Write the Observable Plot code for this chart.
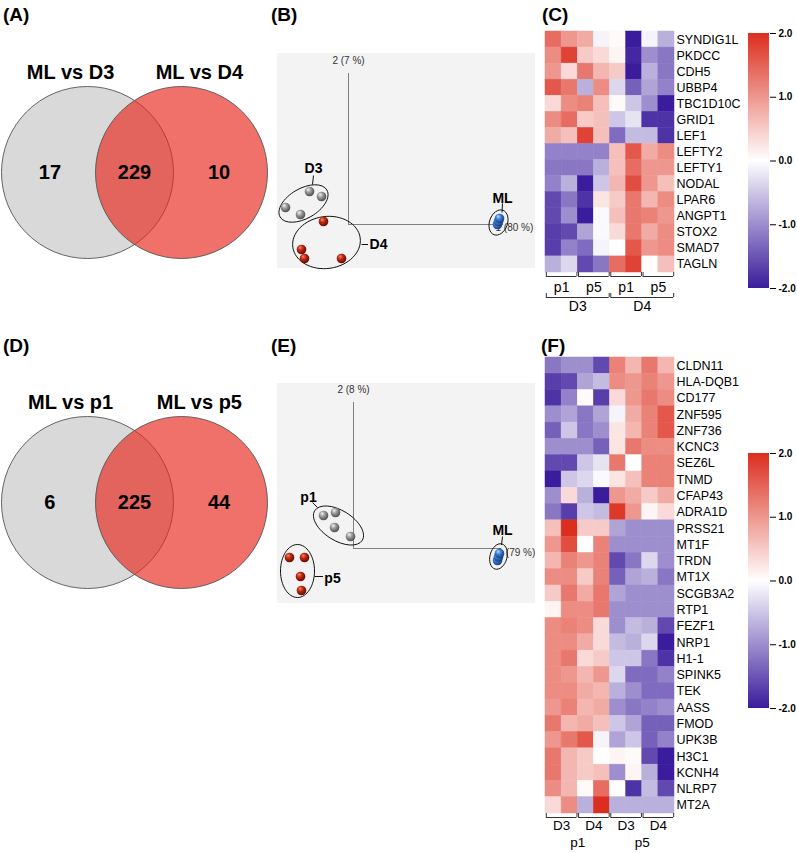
<!DOCTYPE html>
<html><head><meta charset="utf-8">
<script src="https://cdn.jsdelivr.net/npm/d3@7"></script>
<script src="https://cdn.jsdelivr.net/npm/@observablehq/plot@0.6"></script>
<style>
body{margin:0;background:#fff;}
#fig{position:relative;width:797px;height:853px;overflow:hidden;font-family:"Liberation Sans",Arial,Helvetica,sans-serif;}
.panel{position:absolute;}
.plabel{position:absolute;font-weight:bold;font-size:19px;line-height:19px;color:#000;}
</style></head><body><div id="fig"></div>
<script>
// ---------------- DATA ----------------
const vennTopSets = ["ML vs D3", "ML vs D4"];
const vennTopCounts = [17, 229, 10];
const vennBotSets = ["ML vs p1", "ML vs p5"];
const vennBotCounts = [6, 225, 44];

const pcaB_var = ["1 (80 %)", "2 (7 %)"];
const pcaB_D3 = [[-3.9, 3.3], [-2.7, 2.8], [-6.3, 1.7], [-4.8, 1.0]];
const pcaB_D4 = [[-2.5, 0.3], [-4.7, -2.5], [-4.4, -3.4], [-0.7, -3.4]];
const pcaB_ML = [[14.9, 0.0], [15.0, 0.3], [15.1, 0.6]];

const pcaE_var = ["1 (79 %)", "2 (8 %)"];
const pcaE_p1 = [[-3.0, 3.3], [-1.8, 3.6], [-1.9, 2.1], [-0.3, 1.2]];
const pcaE_p5 = [[-6.4, -0.9], [-4.9, -0.9], [-5.3, -2.8], [-5.2, -4.2]];
const pcaE_ML = [[14.4, -1.2], [14.5, -0.85], [14.6, -0.5]];

const genesC = ["SYNDIG1L","PKDCC","CDH5","UBBP4","TBC1D10C","GRID1","LEF1","LEFTY2","LEFTY1","NODAL","LPAR6","ANGPT1","STOX2","SMAD7","TAGLN"];
const valuesC = [
  [1.4, 1.0, 0.8, -0.1, 0.05, -2.0, -0.1, -0.7],
  [1.1, 1.8, 0.5, 0.35, 0.1, -1.9, -1.0, -1.2],
  [1.0, 0.35, 1.3, 0.7, 0.5, -2.0, -0.7, -1.2],
  [1.6, 1.3, -0.7, 1.1, -0.35, -1.4, -0.8, -1.1],
  [0.35, 1.1, 1.2, 0.6, 0.05, -0.5, -1.0, -2.0],
  [1.1, 1.4, 0.5, 0.6, -0.5, -0.25, -1.8, -1.8],
  [0.8, 0.6, 1.8, 0.6, -1.3, -0.6, -0.6, -1.8],
  [-1.1, -1.1, -1.1, -1.1, 0.6, 1.6, 0.8, 1.1],
  [-1.2, -1.2, -1.2, -0.7, 0.6, 1.4, 1.0, 1.0],
  [-1.1, -0.7, -2.0, -0.5, 0.7, 1.7, 1.0, 0.6],
  [-1.6, -1.2, -1.8, 0.25, 0.5, 1.3, 0.7, 1.1],
  [-1.6, -1.0, -2.0, -0.05, 0.6, 1.3, 1.2, 1.0],
  [-1.7, -1.6, -0.8, -0.05, 0.35, 1.3, 0.8, 1.1],
  [-1.7, -1.1, -1.3, -0.1, 0.0, 1.6, 1.0, 1.1],
  [-0.7, -0.35, -1.6, -1.2, 1.4, 1.8, 0.0, 0.6]
];
const colsC_level1 = ["p1", "p5", "p1", "p5"];
const colsC_level2 = ["D3", "D4"];

const genesF = ["CLDN11","HLA-DQB1","CD177","ZNF595","ZNF736","KCNC3","SEZ6L","TNMD","CFAP43","ADRA1D","PRSS21","MT1F","TRDN","MT1X","SCGB3A2","RTP1","FEZF1","NRP1","H1-1","SPINK5","TEK","AASS","FMOD","UPK3B","H3C1","KCNH4","NLRP7","MT2A"];
const valuesF = [
  [-1.2, -1.0, -1.0, -1.6, 1.2, 0.7, 1.3, 0.7],
  [-1.7, -1.6, -0.8, -0.6, 1.1, 1.0, 1.2, 1.0],
  [-1.8, -1.1, 0.05, -1.7, 0.35, 1.0, 1.3, 1.1],
  [-1.0, -0.8, -1.2, -0.8, -0.1, 0.8, 1.2, 1.6],
  [-1.4, -0.5, -1.2, -1.0, 0.25, 0.7, 1.2, 1.6],
  [-1.0, -1.0, -1.0, -1.4, 0.25, 1.3, 1.1, 1.1],
  [-1.6, -1.6, -0.5, -0.25, 1.3, 0.0, 1.2, 1.2],
  [-2.0, -0.5, -0.35, -0.05, 0.25, 0.6, 1.2, 1.2],
  [-1.0, 0.35, -0.7, -2.0, 1.0, 0.8, 0.5, 0.8],
  [-1.2, -1.7, -0.5, -0.6, 1.9, 1.0, 0.1, 0.35],
  [0.6, 2.0, 0.5, 0.5, -0.8, -1.0, -1.0, -1.0],
  [1.0, 1.7, 0.0, 1.2, -1.0, -1.0, -1.0, -1.0],
  [0.7, 1.2, 1.0, 1.2, -1.6, -1.2, -0.35, -1.0],
  [1.1, 1.1, 0.5, 1.2, -1.4, -0.8, -0.7, -1.2],
  [0.5, 1.3, 0.8, 1.3, -0.8, -1.0, -1.0, -1.0],
  [0.1, 1.1, 1.1, 1.3, -1.0, -1.0, -1.0, -1.0],
  [1.1, 1.2, 1.1, 0.35, -1.0, -0.6, -0.7, -1.6],
  [1.1, 1.1, 0.8, 0.35, -0.6, -0.7, -0.35, -2.0],
  [1.1, 1.3, 0.35, 0.5, -0.5, -0.5, -1.2, -1.8],
  [1.1, 1.0, 0.7, 1.0, -0.35, -1.3, -1.3, -1.1],
  [1.1, 1.1, 0.8, 0.7, -0.7, -1.0, -1.3, -1.3],
  [1.0, 1.2, 0.7, 0.8, -1.0, -1.2, -1.1, -1.0],
  [1.3, 0.7, 0.8, 0.6, -0.5, -0.8, -1.4, -1.4],
  [1.0, 1.3, 1.6, -0.1, -0.8, -0.5, -1.4, -1.1],
  [1.3, 0.7, 0.5, 0.0, 0.1, 0.05, -1.6, -2.0],
  [1.3, 0.7, 0.5, 0.6, -1.0, 0.1, -0.7, -2.0],
  [1.1, 0.7, 0.05, 1.4, 0.0, -1.8, -0.6, -1.6],
  [0.35, 1.1, -0.7, 2.0, -0.7, -0.7, -0.7, -0.7]
];
const colsF_level1 = ["D3", "D4", "D3", "D4"];
const colsF_level2 = ["p1", "p5"];

const colorDomain = [-2, 0, 2];
const colorTicks = [-2, -1, 0, 1, 2];

// ---------------- STYLE / LAYOUT ----------------
const FONT = '"Liberation Sans", Arial, Helvetica, sans-serif';
const RED = "#dc2e1e", BLUE = "#3a1c9c", MID = "#ffffff";
const baseStyle = {background: "transparent", overflow: "visible", fontFamily: FONT, color: "#000"};
const fig = document.getElementById("fig");

function place(node, left, top) {
  const d = document.createElement("div");
  d.className = "panel";
  d.style.left = left + "px";
  d.style.top = top + "px";
  d.appendChild(node);
  fig.appendChild(d);
  return node;
}
function panelLabel(t, left, top) {
  const d = document.createElement("div");
  d.className = "plabel";
  d.style.left = left + "px";
  d.style.top = top + "px";
  d.textContent = t;
  fig.appendChild(d);
}
function defsOf(svg) { return d3.select(svg).insert("defs", ":first-child"); }
function radial(defs, id, stops) {
  const g = defs.append("radialGradient").attr("id", id)
    .attr("cx", "42%").attr("cy", "40%").attr("r", "62%").attr("fx", "35%").attr("fy", "28%");
  stops.forEach(([o, c]) => g.append("stop").attr("offset", o).attr("stop-color", c));
}
function ellipseSymbol(rx, ry, deg) {
  const a = deg * Math.PI / 180, c = Math.cos(a), s = Math.sin(a), k = 0.5523;
  const P = (x, y) => [x * c - y * s, x * s + y * c];
  const raw = [[rx,0],[rx,k*ry],[k*rx,ry],[0,ry],[-k*rx,ry],[-rx,k*ry],[-rx,0],[-rx,-k*ry],[-k*rx,-ry],[0,-ry],[k*rx,-ry],[rx,-k*ry],[rx,0]];
  const pts = raw.map(p => P(p[0], p[1]));
  return {draw(ctx) {
    ctx.moveTo(pts[0][0], pts[0][1]);
    for (let i = 1; i < 13; i += 3) ctx.bezierCurveTo(pts[i][0], pts[i][1], pts[i+1][0], pts[i+1][1], pts[i+2][0], pts[i+2][1]);
    ctx.closePath();
  }};
}

// ---------------- VENN ----------------
function venn(sets, counts, top) {
  const svg = Plot.plot({
    width: 270, height: 300, marginLeft: 87, marginRight: 89, marginTop: 125, marginBottom: 81,
    x: {domain: [-1, 1], axis: null}, y: {domain: [-1, 1], axis: null},
    style: baseStyle,
    marks: [
      Plot.dot([sets[0]], {x: -1, y: 0, r: 86, fill: "#d9d9d9", stroke: "#555", strokeWidth: 0.9}),
      Plot.dot([sets[1]], {x: 1, y: 0, r: 86, fill: "#e8261d", fillOpacity: 0.66, stroke: "#555", strokeWidth: 0.9}),
      Plot.text(sets, {x: (d, i) => i ? 1.38 : -1.36, y: 2.13, text: d => d, fontSize: 20, fontWeight: "bold"}),
      Plot.text(counts, {x: (d, i) => (i - 1) * 1.8, y: 0, text: d => String(d), fontSize: 20, fontWeight: "bold"})
    ]
  });
  place(svg, 0, top);
}

// ---------------- PCA ----------------
function pca(o) {
  const svg = Plot.plot({
    width: 258, height: o.height, margin: 0,
    x: {domain: o.xd, axis: null}, y: {domain: o.yd, axis: null},
    style: {...baseStyle, background: "#f3f3f3"},
    marks: [
      Plot.ruleX([0], {y1: 0, y2: o.axY, stroke: "#808080", strokeWidth: 1}),
      Plot.ruleY([0], {x1: 0, x2: o.axX, stroke: "#808080", strokeWidth: 1}),
      Plot.text([o.vars[1]], {x: 0, y: o.axY + 1.25, text: d => d, fontSize: 10, fill: "#333"}),
      Plot.text([o.vars[0]], {x: o.v1[0], y: o.v1[1], text: d => d, textAnchor: "start", fontSize: 10, fill: "#333"}),
      ...o.ells.map(e => Plot.dot([e], {x: e.c[0], y: e.c[1], symbol: ellipseSymbol(e.rx, e.ry, e.a), fill: "none", stroke: "#111", strokeWidth: 1})),
      ...o.groups.map(g => Plot.dot(g.pts, {x: d => d[0], y: d => d[1], r: 4.8, fill: `url(#${g.grad})`})),
      Plot.link(o.leaders, {x1: d => d[0], y1: d => d[1], x2: d => d[2], y2: d => d[3], stroke: "#111", strokeWidth: 1}),
      Plot.text(o.labels, {x: d => d.x, y: d => d.y, text: d => d.t, fontSize: 14, fontWeight: "bold"})
    ]
  });
  const defs = defsOf(svg);
  radial(defs, o.id + "g", [["0%", "#f4f4f4"], ["45%", "#9a9a9a"], ["100%", "#4a4a4a"]]);
  radial(defs, o.id + "r", [["0%", "#f48a6c"], ["45%", "#c0260e"], ["100%", "#5e0a02"]]);
  radial(defs, o.id + "b", [["0%", "#b8dcff"], ["45%", "#3b7bd4"], ["100%", "#153a7c"]]);
  place(svg, o.left, o.top);
}

// ---------------- HEATMAP ----------------
function heatmap(o) {
  const n = o.genes.length, nc = o.values[0].length;
  const rowH = (o.height - o.mT - o.mB) / n;
  const Y = px => n + px / rowH;
  const cells = o.values.flatMap((row, i) => row.map((v, j) => ({i, j, v})));
  const grp = labels => labels.map((label, k) => ({label, from: k * nc / labels.length, to: (k + 1) * nc / labels.length}));
  const g1 = grp(o.lvl1), g2 = grp(o.lvl2);
  const gap = 0.05;
  const bracket = (groups, yLine) => [
    Plot.ruleY(groups, {y: Y(yLine), x1: g => g.from + gap, x2: g => g.to - gap, stroke: "#333", strokeWidth: 1}),
    Plot.ruleX(groups.flatMap(g => [g.from + gap, g.to - gap]), {x: d => d, y1: Y(yLine - 4), y2: Y(yLine), stroke: "#333", strokeWidth: 1})
  ];
  const svg = Plot.plot({
    width: 200, height: o.height, marginLeft: 5, marginRight: 66, marginTop: o.mT, marginBottom: o.mB,
    x: {domain: [0, nc], axis: null},
    y: {domain: [0, n], reverse: true, axis: null},
    color: {type: "linear", domain: colorDomain, range: [BLUE, MID, RED], interpolate: "rgb", clamp: true},
    style: baseStyle,
    marks: [
      Plot.rect(cells, {x1: "j", x2: d => d.j + 1, y1: "i", y2: d => d.i + 1, fill: "v", stroke: "v", strokeWidth: 0.5}),
      Plot.text(o.genes, {x: nc, y: (d, i) => i + 0.5, text: d => d, dx: 2, textAnchor: "start", fontSize: 12.5}),
      ...bracket(g1, 4),
      Plot.text(g1, {x: g => (g.from + g.to) / 2, y: Y(o.l1y), text: "label", fontSize: o.fs}),
      ...(o.b2y ? bracket(g2, o.b2y) : []),
      Plot.text(g2, {x: g => (g.from + g.to) / 2, y: Y(o.l2y), text: "label", fontSize: o.fs})
    ]
  });
  place(svg, o.left, o.top);
}

function colorbar(id, left, top) {
  const svg = Plot.plot({
    width: 57, height: 275, marginLeft: 8, marginRight: 28, marginTop: 8, marginBottom: 12,
    x: {domain: [0, 1], axis: null},
    y: {domain: [colorDomain[0], colorDomain[2]], axis: "right", ticks: colorTicks, tickFormat: d => d.toFixed(1), tickSize: 6, tickPadding: 3, label: null},
    style: {...baseStyle, fontSize: "10px", fontWeight: "bold"},
    marks: [Plot.rect([colorDomain], {x1: 0, x2: 1, y1: d => d[0], y2: d => d[2], fill: `url(#${id})`})]
  });
  const g = defsOf(svg).append("linearGradient").attr("id", id).attr("x1", 0).attr("y1", 0).attr("x2", 0).attr("y2", 1);
  g.append("stop").attr("offset", "0%").attr("stop-color", RED);
  g.append("stop").attr("offset", "50%").attr("stop-color", MID);
  g.append("stop").attr("offset", "100%").attr("stop-color", BLUE);
  place(svg, left, top);
}

// ---------------- BUILD ----------------
venn(vennTopSets, vennTopCounts, 0);
venn(vennBotSets, vennBotCounts, 330);

pca({
  id: "pb", left: 277, top: 53, height: 215, xd: [-7.1, 18.7], yd: [-4.4, 17.1],
  axX: 15.5, axY: 15.1, vars: pcaB_var, v1: [14.7, -0.3],
  ells: [{c: [-4.5, 2.1], rx: 27, ry: 15, a: -30}, {c: [-2.2, -1.8], rx: 34, ry: 26, a: -8}, {c: [15.0, 0.2], rx: 9, ry: 13, a: 20}],
  groups: [{pts: pcaB_D3, grad: "pbg"}, {pts: pcaB_D4, grad: "pbr"}, {pts: pcaB_ML, grad: "pbb"}],
  leaders: [[-3.5, 4.9, -3.6, 4.0], [1.3, -2.0, 1.95, -2.0], [15.4, 2.1, 15.35, 1.2]],
  labels: [{t: "D3", x: -3.5, y: 5.6}, {t: "D4", x: 3.0, y: -2.0}, {t: "ML", x: 15.4, y: 2.6}]
});
pca({
  id: "pe", left: 277, top: 383, height: 220, xd: [-7.6, 18.2], yd: [-5.5, 16.5],
  axX: 14.7, axY: 14.6, vars: pcaE_var, v1: [14.4, -0.4],
  ells: [{c: [-1.5, 2.3], rx: 28, ry: 15, a: 32}, {c: [-5.6, -2.25], rx: 17, ry: 26.5, a: 0}, {c: [14.5, -0.8], rx: 8.5, ry: 13, a: 15}],
  groups: [{pts: pcaE_p1, grad: "peg"}, {pts: pcaE_p5, grad: "per"}, {pts: pcaE_ML, grad: "peb"}],
  leaders: [[-4.1, 4.6, -3.6, 4.1], [-3.9, -2.8, -3.05, -2.8], [14.9, 1.2, 14.8, 0.35]],
  labels: [{t: "p1", x: -4.5, y: 5.1}, {t: "p5", x: -2.1, y: -3.0}, {t: "ML", x: 14.9, y: 1.8}]
});

heatmap({left: 540, top: 25, height: 290, mT: 6, mB: 43, genes: genesC, values: valuesC,
  lvl1: colsC_level1, lvl2: colsC_level2, l1y: 15, b2y: 25, l2y: 34, fs: 14});
heatmap({left: 540, top: 350, height: 503, mT: 7, mB: 40, genes: genesF, values: valuesF,
  lvl1: colsF_level1, lvl2: colsF_level2, l1y: 12, b2y: 0, l2y: 29.5, fs: 13.5});

colorbar("cbC", 740, 25);
colorbar("cbF", 740, 445);

panelLabel("(A)", 3, 5);
panelLabel("(B)", 271, 5);
panelLabel("(C)", 542, 5);
panelLabel("(D)", 3, 336);
panelLabel("(E)", 271, 336);
panelLabel("(F)", 541, 336);
</script></body></html>
